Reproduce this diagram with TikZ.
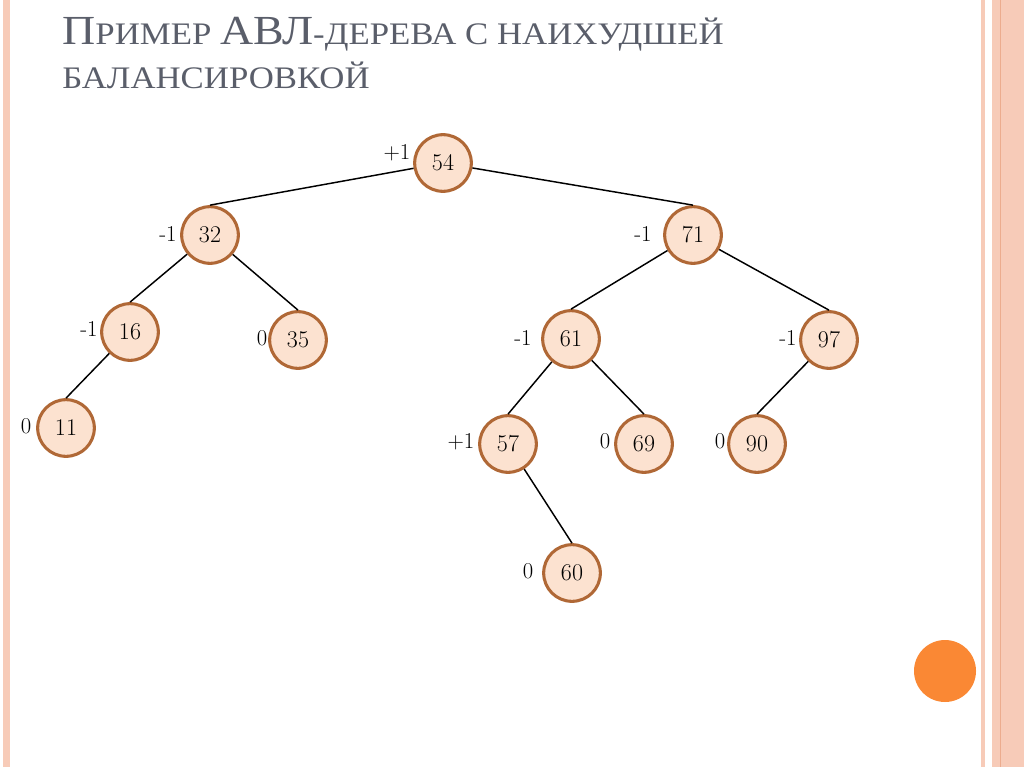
\documentclass[tikz,border=0pt]{standalone}
\usepackage{fontspec}
\newfontfamily\titlefont{Liberation Serif}
\definecolor{titlegray}{RGB}{90,94,106}
\definecolor{nodefill}{RGB}{252,226,208}
\definecolor{nodeline}{RGB}{176,104,54}
\definecolor{stripe}{RGB}{247,203,184}
\definecolor{stripedark}{RGB}{236,172,142}
\definecolor{accent}{RGB}{250,136,52}
\newcommand\TBig[1]{{\fontsize{31}{31}\selectfont #1}}
\newcommand\TSm[1]{{\fontsize{23.5}{31}\selectfont #1}}
\begin{document}
\begin{tikzpicture}[x=0.75pt,y=-0.75pt,
  avl/.style={circle,draw=nodeline,line width=2.3pt,fill=nodefill,minimum size=42.5pt,inner sep=0pt,font=\fontsize{18}{20}\selectfont},
  bal/.style={inner sep=0pt,font=\fontsize{17}{19}\selectfont},
  edge/.style={black,line width=1.1pt},
  ttl/.style={anchor=base west,inner sep=0pt,text=titlegray,font=\titlefont,xscale=1.11}]
\useasboundingbox (0,0) rectangle (1024,767);
\fill[white] (0,0) rectangle (1024,767);
% borders
\fill[stripe] (3,0) rectangle (10,767);
\fill[stripe] (981,0) rectangle (985,767);
\fill[stripe] (992,0) rectangle (1024,767);
\fill[stripedark] (999.5,0) rectangle (1001,767);
\fill[accent] (945,671) circle (31);
% title
\node[ttl] (t1) at (62,45) {\TBig{П}\TSm{РИМЕР\ }\TBig{АВЛ}\TSm{-ДЕРЕВА С НАИХУДШЕЙ}};
\node[ttl] (t2) at (62,89) {\TSm{БАЛАНСИРОВКОЙ}};
% nodes
\node[avl] (n54) at (443,163) {54};
\node[avl] (n32) at (210,235) {32};
\node[avl] (n71) at (693,235) {71};
\node[avl] (n16) at (130,332) {16};
\node[avl] (n35) at (298,340) {35};
\node[avl] (n61) at (571,339) {61};
\node[avl] (n97) at (829,340) {97};
\node[avl] (n11) at (66,428) {11};
\node[avl] (n57) at (508,444) {57};
\node[avl] (n69) at (644,444) {69};
\node[avl] (n90) at (757,444) {90};
\node[avl] (n60) at (572,573) {60};
% edges
\draw[edge] (n54) -- (n32.north);
\draw[edge] (n54) -- (n71.north);
\draw[edge] (n32) -- (n16.north);
\draw[edge] (n32) -- (n35.north);
\draw[edge] (n16) -- (n11.north);
\draw[edge] (n71) -- (n61.north);
\draw[edge] (n71) -- (n97.north);
\draw[edge] (n61) -- (n57.north);
\draw[edge] (n61) -- (n69.north);
\draw[edge] (n97) -- (n90.north);
\draw[edge] (n57) -- (n60.north);
% balance factors
\node[bal] (b54) at (397,153) {+1};
\node[bal] (b32) at (168,234) {-1};
\node[bal] (b71) at (643,234) {-1};
\node[bal] (b16) at (89,329) {-1};
\node[bal] (b35) at (262,338) {0};
\node[bal] (b61) at (523,338) {-1};
\node[bal] (b97) at (788,338) {-1};
\node[bal] (b11) at (26,426) {0};
\node[bal] (b57) at (461,442) {+1};
\node[bal] (b69) at (605,441) {0};
\node[bal] (b90) at (720,441) {0};
\node[bal] (b60) at (528,571) {0};
\end{tikzpicture}
\end{document}
